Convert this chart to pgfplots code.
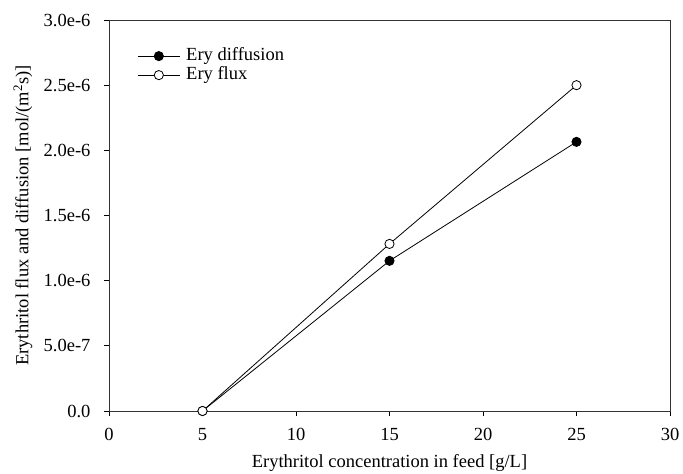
\documentclass[border=0pt]{standalone}
\usepackage{fontspec}
\setmainfont{Liberation Serif}
\usepackage{pgfplots}
\pgfplotsset{compat=1.18}
\usetikzlibrary{calc}
\begin{document}
\begin{tikzpicture}
\begin{axis}[
  name=ax,
  scale only axis,
  width=561pt, height=391pt,
  xmin=0, xmax=30, ymin=0, ymax=3e-6,
  xtick={0,5,10,15,20,25,30},
  ytick={0,5e-7,1e-6,1.5e-6,2e-6,2.5e-6,3e-6},
  yticklabels={0.0,5.0e-7,1.0e-6,1.5e-6,2.0e-6,2.5e-6,3.0e-6},
  scaled y ticks=false,
  /pgf/number format/assume math mode=true,
  tick align=outside,
  xtick pos=bottom, ytick pos=left,
  major tick length=5pt,
  tick style={black, line width=0.8pt},
  axis line style={line width=0.8pt, black!80},
  ticklabel style={font=\fontsize{18.5}{22}\selectfont},
  xticklabel style={yshift=-9pt},
  yticklabel style={xshift=-10pt},
  label style={font=\fontsize{18.5}{22}\selectfont},
  xlabel={Erythritol concentration in feed [g/L]},
  ylabel={Erythritol flux and diffusion [mol/(m\textsuperscript{2}s)]},
  xlabel style={at={(rel axis cs:0.5,0)}, anchor=north, inner sep=0pt, yshift=-43pt},
  ylabel style={at={(rel axis cs:0,0.5)}, anchor=south, yshift=73pt},
  legend style={at={(rel axis cs:0.045,0.935)}, anchor=north west, draw=none, fill=none,
    font=\fontsize{18.5}{22}\selectfont, row sep=2pt, column sep=4pt,
    nodes={inner ysep=0pt, text height=13pt, text depth=4pt}},
  legend cell align=left,
  legend image code/.code={
    \draw[#1, mark repeat=2, mark phase=2] plot coordinates {(0pt,0pt) (21pt,0pt) (42pt,0pt)};
  },
]
\addplot[black, line width=0.8pt, mark=*, mark size=4.6pt, mark options={fill=black}]
  coordinates {(5,0) (15,1.152e-6) (25,2.065e-6)};
\addlegendentry{Ery diffusion}
\addplot[black, line width=0.8pt, mark=*, mark size=4.6pt, mark options={fill=white}]
  coordinates {(5,0) (15,1.282e-6) (25,2.5e-6)};
\addlegendentry{Ery flux}
\end{axis}
\path[use as bounding box] ($(ax.south west)+(-109pt,-63pt)$) rectangle ($(ax.south west)+(574pt,411pt)$);
\end{tikzpicture}
\end{document}
